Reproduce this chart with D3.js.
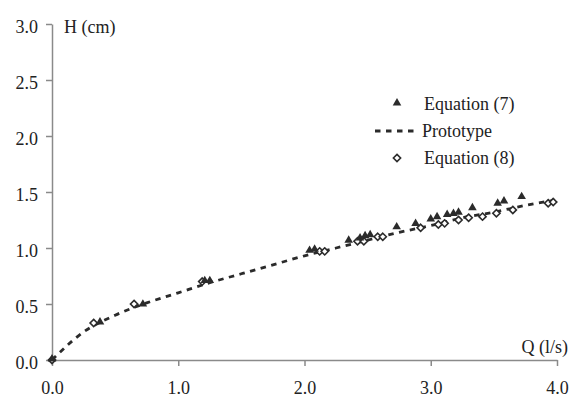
<!DOCTYPE html>
<html>
<head>
<meta charset="utf-8">
<script src="https://cdn.jsdelivr.net/npm/d3@7"></script>
<style>
  body { margin: 0; background: #fff; }
</style>
</head>
<body>
<script>
"use strict";
// values: Q (l/s), H (cm)
const eq7Q = [0, 0.38, 0.72, 1.21, 1.25, 2.04, 2.08, 2.35, 2.44, 2.48, 2.52, 2.73, 2.88, 3.0, 3.05, 3.13, 3.18, 3.22, 3.33, 3.53, 3.58, 3.72]
const eq7H = [0, 0.33, 0.49, 0.70, 0.70, 0.97, 0.98, 1.06, 1.08, 1.10, 1.11, 1.18, 1.21, 1.25, 1.27, 1.29, 1.30, 1.31, 1.35, 1.39, 1.41, 1.45]
const eq8Q = [0, 0.33, 0.65, 1.19, 2.12, 2.16, 2.42, 2.47, 2.58, 2.62, 2.92, 3.06, 3.11, 3.22, 3.30, 3.41, 3.52, 3.65, 3.93, 3.97]
const eq8H = [0, 0.33, 0.50, 0.70, 0.97, 0.97, 1.06, 1.06, 1.10, 1.10, 1.18, 1.21, 1.22, 1.25, 1.27, 1.28, 1.31, 1.34, 1.40, 1.41]
const protoQ = [0, 0.25, 0.5, 0.75, 1.0, 1.25, 1.5, 1.75, 2.0, 2.25, 2.5, 2.75, 3.0, 3.25, 3.5, 3.75, 4.0]
const protoH = [0, 0.25, 0.40, 0.51, 0.60, 0.69, 0.77, 0.85, 0.93, 1.00, 1.07, 1.14, 1.20, 1.27, 1.32, 1.38, 1.43]
const xTicks = [0, 1, 2, 3, 4]
const yTicks = [0, 0.5, 1, 1.5, 2, 2.5, 3]
const legendLabels = ["Equation (7)", "Prototype", "Equation (8)"]

const W = 573, H = 401
const axisColor = "#8a8a8a", markColor = "#2b2b2b", textColor = "#222"
const font = "'Liberation Serif'"

const svg = d3.select("body").append("svg")
    .attr("width", W)
    .attr("height", H)
    .style("font-family", font)

const x = d3.scaleLinear().domain([0, 4]).range([52, 557])
const y = d3.scaleLinear().domain([0, 3]).range([360, 24])

// axes
const xAxis = svg.append("g")
    .attr("transform", "translate(0,360)")
    .call(d3.axisBottom(x).tickValues(xTicks).tickFormat(d3.format(".1f")).tickSize(6).tickSizeOuter(0).tickPadding(15))
const yAxis = svg.append("g")
    .attr("transform", "translate(52,0)")
    .call(d3.axisLeft(y).tickValues(yTicks).tickFormat(d3.format(".1f")).tickSize(6).tickSizeOuter(0).tickPadding(8))

for (const g of [xAxis, yAxis]) {
    g.selectAll("path, line").attr("stroke", axisColor).attr("stroke-width", 1.5)
    g.selectAll("text")
        .style("font-family", font)
        .style("font-size", "18px")
        .attr("fill", textColor)
}
yAxis.selectAll("text").attr("dy", "0.45em")

// axis titles
svg.append("text").attr("x", 64).attr("y", 33).text("H (cm)")
svg.append("text").attr("x", 568).attr("y", 353).attr("text-anchor", "end").text("Q (l/s)")

// prototype curve
const proto = protoQ.map((q, i) => [q, protoH[i]])
svg.append("path")
    .datum(proto)
    .attr("fill", "none")
    .attr("stroke", markColor)
    .attr("stroke-width", 2.8)
    .attr("stroke-dasharray", "5.5,5.5")
    .attr("d", d3.line().x(d => x(d[0])).y(d => y(d[1])).curve(d3.curveMonotoneX))

const triangle = d3.symbol().type(d3.symbolTriangle).size(32)
const diamond = "M0,-3.6L3.6,0L0,3.6L-3.6,0Z"

// equation (8): hollow diamonds
svg.append("g").selectAll("path")
    .data(eq8Q.map((q, i) => [q, eq8H[i]]))
    .enter().append("path")
    .attr("transform", d => `translate(${x(d[0])},${y(d[1])})`)
    .attr("d", diamond)
    .attr("fill", "#fff")
    .attr("stroke", markColor)
    .attr("stroke-width", 1.6)

// equation (7): filled triangles
svg.append("g").selectAll("path")
    .data(eq7Q.map((q, i) => [q, eq7H[i]]))
    .enter().append("path")
    .attr("transform", d => `translate(${x(d[0])},${y(d[1]) - 1})`)
    .attr("d", triangle)
    .attr("fill", markColor)

// legend
const legend = svg.append("g")
legend.append("path").attr("transform", "translate(397,103)").attr("d", triangle).attr("fill", markColor)
legend.append("line").attr("x1", 375).attr("x2", 417).attr("y1", 131).attr("y2", 131)
    .attr("stroke", markColor).attr("stroke-width", 2.8).attr("stroke-dasharray", "5.5,5.5")
legend.append("path").attr("transform", "translate(397,158)").attr("d", diamond)
    .attr("fill", "#fff").attr("stroke", markColor).attr("stroke-width", 1.6)
legend.selectAll("text.lab")
    .data(legendLabels)
    .enter().append("text")
    .attr("class", "lab")
    .attr("x", (d, i) => i === 1 ? 422 : 424)
    .attr("y", (d, i) => 110 + i * 27)
    .text(d => d)

// shared text styling
svg.selectAll("text")
    .style("font-family", font)
    .style("font-size", "18px")
    .attr("fill", textColor)
</script>
</body>
</html>
